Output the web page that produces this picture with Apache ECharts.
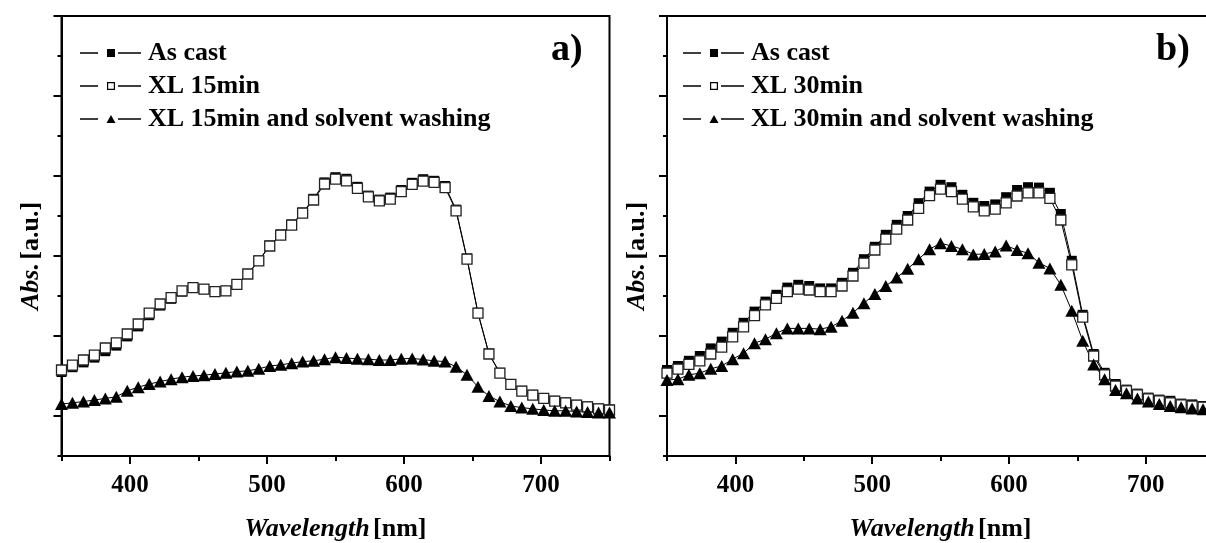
<!DOCTYPE html>
<html>
<head>
<meta charset="utf-8">
<script src="https://cdn.jsdelivr.net/npm/echarts@6/dist/echarts.min.js"></script>
<style>
html, body { margin: 0; padding: 0; background: #fff; }
#main { width: 1206px; height: 543px; }
</style>
</head>
<body>
<div id="main"></div>
<script>
// wavelength of every measured point (nm)
var wavelength = [350, 358, 366, 374, 382, 390, 398, 406, 414, 422, 430, 438, 446, 454, 462, 470, 478,
    486, 494, 502, 510, 518, 526, 534, 542, 550, 558, 566, 574, 582, 590, 598, 606, 614, 622, 630,
    638, 646, 654, 662, 670, 678, 686, 694, 702, 710, 718, 726, 734, 742, 750];

// panel a)
var asCastA = [2.10, 2.22, 2.34, 2.46, 2.62, 2.76, 2.99, 3.24, 3.52, 3.76, 3.93, 4.11, 4.20, 4.17, 4.11, 4.13, 4.29,
    4.55, 4.89, 5.26, 5.54, 5.79, 6.09, 6.43, 6.84, 6.97, 6.93, 6.73, 6.51, 6.41, 6.46, 6.65, 6.83, 6.92, 6.88, 6.75,
    6.16, 4.94, 3.58, 2.56, 2.08, 1.80, 1.63, 1.53, 1.45, 1.38, 1.34, 1.28, 1.24, 1.19, 1.16];
var xl15 = [2.15, 2.27, 2.40, 2.52, 2.70, 2.83, 3.05, 3.30, 3.57, 3.80, 3.96, 4.13, 4.21, 4.17, 4.11, 4.13, 4.29,
    4.55, 4.88, 5.25, 5.52, 5.77, 6.07, 6.40, 6.80, 6.92, 6.88, 6.69, 6.48, 6.38, 6.42, 6.61, 6.79, 6.87, 6.84, 6.71,
    6.13, 4.92, 3.57, 2.55, 2.07, 1.79, 1.62, 1.52, 1.44, 1.37, 1.33, 1.27, 1.23, 1.18, 1.15];
var xl15Wash = [1.30, 1.33, 1.36, 1.40, 1.44, 1.48, 1.63, 1.72, 1.80, 1.86, 1.92, 1.97, 2.00, 2.02, 2.05, 2.08, 2.11,
    2.13, 2.18, 2.25, 2.28, 2.32, 2.36, 2.38, 2.42, 2.47, 2.45, 2.43, 2.42, 2.40, 2.40, 2.43, 2.44, 2.41, 2.38, 2.36,
    2.23, 2.03, 1.73, 1.50, 1.36, 1.25, 1.21, 1.18, 1.15, 1.13, 1.13, 1.11, 1.10, 1.09, 1.09];

// panel b)
var asCastB = [2.15, 2.25, 2.38, 2.50, 2.69, 2.86, 3.08, 3.33, 3.61, 3.86, 4.03, 4.21, 4.28, 4.25, 4.19, 4.19, 4.33,
    4.58, 4.92, 5.23, 5.53, 5.78, 6.00, 6.32, 6.61, 6.78, 6.72, 6.53, 6.33, 6.25, 6.29, 6.47, 6.65, 6.72, 6.71, 6.58,
    6.05, 4.88, 3.53, 2.55, 2.08, 1.80, 1.66, 1.56, 1.46, 1.41, 1.38, 1.31, 1.29, 1.25, 1.21];
var xl30 = [2.07, 2.17, 2.29, 2.38, 2.55, 2.72, 2.98, 3.23, 3.51, 3.78, 3.94, 4.11, 4.17, 4.15, 4.11, 4.11, 4.25,
    4.50, 4.82, 5.15, 5.42, 5.67, 5.90, 6.19, 6.51, 6.67, 6.61, 6.42, 6.23, 6.13, 6.17, 6.33, 6.50, 6.58, 6.58, 6.44,
    5.90, 4.78, 3.47, 2.50, 2.03, 1.75, 1.63, 1.53, 1.43, 1.38, 1.33, 1.28, 1.25, 1.22, 1.18];
var xl30Wash = [1.90, 1.92, 2.03, 2.07, 2.18, 2.25, 2.42, 2.57, 2.82, 2.92, 3.07, 3.19, 3.19, 3.19, 3.17, 3.23, 3.38,
    3.58, 3.82, 4.05, 4.25, 4.46, 4.68, 4.92, 5.17, 5.32, 5.25, 5.17, 5.04, 5.05, 5.11, 5.26, 5.15, 5.07, 4.83, 4.69,
    4.28, 3.63, 2.88, 2.29, 1.92, 1.65, 1.57, 1.44, 1.36, 1.30, 1.25, 1.22, 1.19, 1.17, 1.15];

var xLabels = [400, 500, 600, 700];
var yMinorTicks = [0, 2, 4, 6, 8, 10];
var yMajorTicks = [1, 3, 5, 7, 9, 11];

var FONT = '"Liberation Serif", "Times New Roman", serif';

// legend icons "— symbol —" with gaps, drawn in a 61 x 8 box
var LINES = 'M0,3.3H18V4.7H0Z M38,3.3H61V4.7H38Z ';
var iconFilled = 'path://' + LINES + 'M27,0H35V8H27Z';
var iconOpen = 'path://' + LINES + 'M27,0H35V1.2H27Z M27,6.8H35V8H27Z M27,0H28.2V8H27Z M33.8,0H35V8H33.8Z';
var iconTri = 'path://' + LINES + 'M26.5,8L31,0L35.5,8Z';

function pairs(vals) {
    return wavelength.map(function (w, i) { return [w, vals[i]]; });
}

function xAxes(gi) {
    return [
        {
            type: 'value', gridIndex: gi, position: 'bottom', min: 350, max: 750, interval: 50,
            axisLine: {onZero: false, lineStyle: {color: '#000', width: 2}},
            axisTick: {length: 5, lineStyle: {color: '#000', width: 2}},
            axisLabel: {show: false},
            splitLine: {show: false},
            name: '{i|Wavelength} {b|[nm]}',
            nameLocation: 'middle',
            nameGap: 60,
            nameTextStyle: {
                rich: {
                    i: {fontFamily: FONT, fontSize: 26, fontWeight: 'bold', fontStyle: 'italic', color: '#000'},
                    b: {fontFamily: FONT, fontSize: 26, fontWeight: 'bold', color: '#000'}
                }
            }
        },
        {
            type: 'value', gridIndex: gi, position: 'bottom', min: 350, max: 750,
            axisLine: {show: false, onZero: false},
            axisTick: {customValues: xLabels, length: 8, lineStyle: {color: '#000', width: 2}},
            axisLabel: {customValues: xLabels, margin: 17, color: '#000', fontFamily: FONT, fontSize: 25, fontWeight: 'bold'},
            splitLine: {show: false}
        }
    ];
}

function yAxes(gi) {
    return [
        {
            type: 'value', gridIndex: gi, position: 'left', min: 0, max: 11,
            axisLine: {onZero: false, lineStyle: {color: '#000', width: 2}},
            axisTick: {customValues: yMinorTicks, length: 4, lineStyle: {color: '#000', width: 2}},
            axisLabel: {show: false},
            splitLine: {show: false},
            name: '{i|Abs.} {b|[a.u.]}',
            nameLocation: 'middle',
            nameGap: 17,
            nameTextStyle: {
                padding: [0, 40, 0, 0],
                rich: {
                    i: {fontFamily: FONT, fontSize: 26, fontWeight: 'bold', fontStyle: 'italic', color: '#000'},
                    b: {fontFamily: FONT, fontSize: 26, fontWeight: 'bold', color: '#000'}
                }
            }
        },
        {
            type: 'value', gridIndex: gi, position: 'left', min: 0, max: 11,
            axisLine: {show: false, onZero: false},
            axisTick: {customValues: yMajorTicks, length: 8, lineStyle: {color: '#000', width: 2}},
            axisLabel: {show: false},
            splitLine: {show: false}
        }
    ];
}

function lineSeries(name, vals, axis, kind) {
    var s = {
        name: name,
        type: 'line',
        xAxisIndex: axis,
        yAxisIndex: axis,
        data: pairs(vals),
        lineStyle: {color: '#000', width: 1},
        emphasis: {disabled: true}
    };
    if (kind === 'filled') {
        s.symbol = 'rect'; s.symbolSize = 10;
        s.itemStyle = {color: '#000'};
    } else if (kind === 'open') {
        s.symbol = 'rect'; s.symbolSize = 10;
        s.itemStyle = {color: '#fff', borderColor: '#222', borderWidth: 1.3};
    } else {
        s.symbol = 'triangle'; s.symbolSize = [13, 12];
        s.itemStyle = {color: '#000'};
    }
    return s;
}

function legendItem(name, icon) {
    return {name: name, icon: icon, itemStyle: {color: '#000', borderWidth: 0}};
}

var legendText = {fontFamily: FONT, fontSize: 26, fontWeight: 'bold', color: '#000', lineHeight: 26, padding: [0, 0, 0, 2]};

var myChart = echarts.init(document.getElementById('main'));
var option = {
    animation: false,
    backgroundColor: '#fff',
    title: [
        {text: 'a)', left: 546, top: 26, textStyle: {fontFamily: FONT, fontSize: 38, fontWeight: 'bold', color: '#000'}},
        {text: 'b)', left: 1151, top: 26, textStyle: {fontFamily: FONT, fontSize: 38, fontWeight: 'bold', color: '#000'}}
    ],
    legend: [
        {
            orient: 'vertical', left: 75, top: 35, itemWidth: 61, itemHeight: 8, itemGap: 7,
            textStyle: legendText, selectedMode: false,
            data: [legendItem('As cast', iconFilled), legendItem('XL 15min', iconOpen),
                legendItem('XL 15min and solvent washing', iconTri)]
        },
        {
            orient: 'vertical', left: 678, top: 35, itemWidth: 61, itemHeight: 8, itemGap: 7,
            textStyle: legendText, selectedMode: false,
            data: [legendItem('As cast ', iconFilled), legendItem('XL 30min', iconOpen),
                legendItem('XL 30min and solvent washing', iconTri)]
        }
    ],
    grid: [
        {left: 61.5, right: 596.5, top: 16, bottom: 87, outerBoundsMode: 'none', containLabel: false,
            show: true, borderColor: '#000', borderWidth: 2},
        {left: 667, right: -8, top: 16, bottom: 87, outerBoundsMode: 'none', containLabel: false,
            show: true, borderColor: '#000', borderWidth: 2}
    ],
    xAxis: xAxes(0).concat(xAxes(1)),
    yAxis: yAxes(0).concat(yAxes(1)),
    series: [
        lineSeries('As cast', asCastA, 0, 'filled'),
        lineSeries('XL 15min', xl15, 0, 'open'),
        lineSeries('XL 15min and solvent washing', xl15Wash, 0, 'tri'),
        lineSeries('As cast ', asCastB, 2, 'filled'),
        lineSeries('XL 30min', xl30, 2, 'open'),
        lineSeries('XL 30min and solvent washing', xl30Wash, 2, 'tri')
    ]
};
myChart.setOption(option);
</script>
</body>
</html>
